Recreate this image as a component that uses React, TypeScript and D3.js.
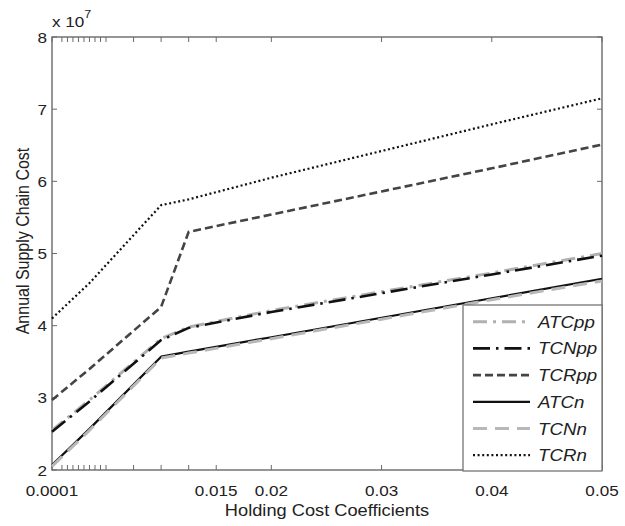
import React from "react";
import * as d3 from "d3";

const xValues = [0.0001, 0.0035, 0.01, 0.0125, 0.02, 0.03, 0.04, 0.05];
const ATCpp = [2.55, 2.97, 3.82, 3.98, 4.21, 4.47, 4.73, 5.0];
const TCNpp = [2.53, 2.95, 3.8, 3.97, 4.19, 4.45, 4.71, 4.97];
const TCRpp = [2.97, 3.4, 4.26, 5.3, 5.54, 5.86, 6.18, 6.51];
const ATCn = [2.07, 2.57, 3.57, 3.64, 3.84, 4.11, 4.38, 4.65];
const TCNn = [2.05, 2.55, 3.55, 3.62, 3.82, 4.09, 4.36, 4.62];
const TCRn = [4.1, 4.59, 5.67, 5.75, 6.05, 6.42, 6.79, 7.15];

const xTickLabels = [0.0001, 0.015, 0.02, 0.03, 0.04, 0.05];
const xMinorTicks = [0.001, 0.0015, 0.002, 0.0025, 0.003, 0.0035, 0.004, 0.0045, 0.005, 0.0075, 0.01, 0.0125];
const yTicks = [2, 3, 4, 5, 6, 7, 8];

const series = [
  { name: "ATCpp", values: ATCpp, color: "#b0b0b0", width: 3, dash: "14,6,3,6" },
  { name: "TCNpp", values: TCNpp, color: "#111", width: 2.6, dash: "17,6,2.5,6" },
  { name: "TCRpp", values: TCRpp, color: "#444", width: 2.6, dash: "8,4" },
  { name: "ATCn", values: ATCn, color: "#111", width: 2.2, dash: "" },
  { name: "TCNn", values: TCNn, color: "#b8b8b8", width: 3, dash: "14,8" },
  { name: "TCRn", values: TCRn, color: "#111", width: 2.2, dash: "2,2.6" },
];

const FONT = "'Liberation Sans', Arial, Helvetica, sans-serif";
const SX = 1.14;

export default function App() {
  const left = 52, right = 602, top = 37, bottom = 470;
  const x = d3.scaleLinear().domain([0.0001, 0.05]).range([left, right]);
  const y = d3.scaleLinear().domain([2, 8]).range([bottom, top]);
  const line = d3
    .line<number>()
    .x((_, i) => x(xValues[i]))
    .y((d) => y(d));

  const fmt = (v: number) => String(v);
  const axisColor = "#6a6a6a";
  const tickLen = 5;

  const legendX = 463, legendY = 305, legendW = 139, legendH = 166;
  const rowH = 26.7;

  return (
    <svg
      width={625}
      height={526}
      style={{ position: "absolute", left: 0, top: 0, background: "#fff" }}
      fontFamily={FONT}
    >
      <rect x={0} y={0} width={625} height={526} fill="#fff" />
      {/* frame */}
      <rect x={left} y={top} width={right - left} height={bottom - top} fill="none" stroke={axisColor} strokeWidth={1.4} />
      {/* x ticks */}
      {[...xTickLabels, ...xMinorTicks].map((t, i) => (
        <g key={"xt" + i}>
          <line x1={x(t)} x2={x(t)} y1={bottom} y2={bottom - tickLen} stroke={axisColor} strokeWidth={1} />
          <line x1={x(t)} x2={x(t)} y1={top} y2={top + tickLen} stroke={axisColor} strokeWidth={1} />
        </g>
      ))}
      {xTickLabels.map((t, i) => (
        <text
          key={"xl" + i}
          transform={`translate(${x(t)},${496}) scale(${SX},1)`}
          textAnchor="middle"
          fontSize={15}
          fill="#222"
        >
          {fmt(t)}
        </text>
      ))}
      {/* y ticks */}
      {yTicks.map((t, i) => (
        <g key={"yt" + i}>
          <line x1={left} x2={left + tickLen} y1={y(t)} y2={y(t)} stroke={axisColor} strokeWidth={1} />
          <line x1={right} x2={right - tickLen} y1={y(t)} y2={y(t)} stroke={axisColor} strokeWidth={1} />
          <text
            transform={`translate(${left - 5},${y(t) + 5.5}) scale(${SX},1)`}
            textAnchor="end"
            fontSize={15}
            fill="#222"
          >
            {t}
          </text>
        </g>
      ))}
      {/* exponent */}
      <text transform={`translate(${left},${27}) scale(${SX},1)`} fontSize={15} fill="#222">
        x 10
        <tspan dy={-9} fontSize={11}>7</tspan>
      </text>
      {/* axis labels */}
      <text
        transform={`translate(${(left + right) / 2},${516}) scale(${SX},1)`}
        textAnchor="middle"
        fontSize={16}
        fill="#222"
      >
        Holding Cost Coefficients
      </text>
      <text
        transform={`translate(${29},${241}) rotate(-90) scale(1,${SX})`}
        textAnchor="middle"
        fontSize={16}
        fill="#222"
      >
        Annual Supply Chain Cost
      </text>
      {/* lines */}
      {series.map((s) => (
        <path
          key={s.name}
          d={line(s.values) || ""}
          fill="none"
          stroke={s.color}
          strokeWidth={s.width}
          strokeDasharray={s.dash || undefined}
          strokeLinejoin="round"
        />
      ))}
      {/* legend */}
      <rect x={legendX} y={legendY} width={legendW} height={legendH} fill="#fff" stroke={axisColor} strokeWidth={1.2} />
      {series.map((s, i) => {
        const cy = legendY + 16.7 + i * rowH;
        return (
          <g key={"lg" + s.name}>
            <line
              x1={legendX + 10}
              x2={legendX + 67}
              y1={cy}
              y2={cy}
              stroke={s.color}
              strokeWidth={s.width}
              strokeDasharray={s.dash || undefined}
            />
            <text
              transform={`translate(${legendX + 75},${cy + 6}) scale(1.1,1)`}
              fontSize={17}
              fontStyle="italic"
              fill="#222"
            >
              {s.name}
            </text>
          </g>
        );
      })}
    </svg>
  );
}
